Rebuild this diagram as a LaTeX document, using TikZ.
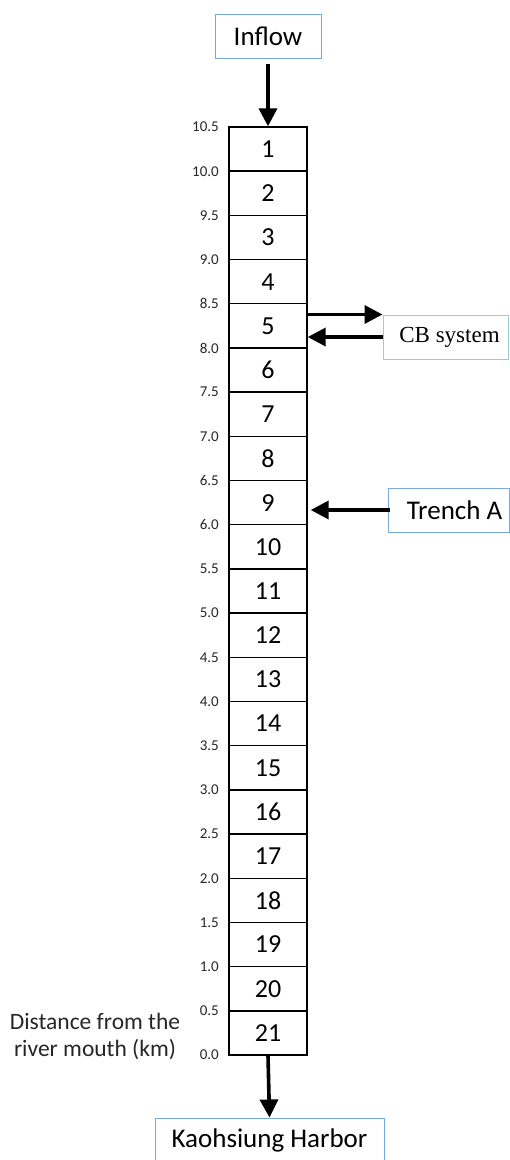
\documentclass[tikz,border=0pt]{standalone}
\usepackage{fontspec}
\setmainfont{Carlito}
\newfontfamily\serifrm{Liberation Serif}
\usetikzlibrary{arrows.meta}
\definecolor{boxblue}{RGB}{120,168,220}
\definecolor{boxcyan}{RGB}{150,205,218}
\begin{document}
\begin{tikzpicture}[x=1pt,y=-1pt,
  cellbox/.style={draw=black,line width=1.4pt,minimum width=78pt,minimum height=44.19pt,inner sep=0pt,font=\fontsize{26}{26}\selectfont},
  tick/.style={anchor=east,inner sep=0pt,font=\fontsize{15}{15}\selectfont,text=black!85},
  lbox/.style={draw=boxblue,line width=1pt,inner sep=0pt,font=\fontsize{27}{27}\selectfont},
  arr/.style={line width=3.6pt,-{Triangle[width=18pt,length=18pt]}},
]
\useasboundingbox (0,0) rectangle (510,1160);
% column cells
\foreach \i in {1,...,21}{
  \pgfmathsetmacro{\yc}{127+(\i-0.5)*44.19}
  \node[cellbox] (c\i) at (268,\yc) {\i};
}
% tick labels
\foreach \lab [count=\k from 0] in {10.5,10.0,9.5,9.0,8.5,8.0,7.5,7.0,6.5,6.0,5.5,5.0,4.5,4.0,3.5,3.0,2.5,2.0,1.5,1.0,0.5,0.0}{
  \pgfmathsetmacro{\yk}{127+\k*44.19}
  \node[tick] (t\k) at (219,\yk) {\lab};
}
% boxes
\node[lbox,minimum width=106pt,minimum height=44pt] (inflow) at (268,36) {Inflow};
\node[lbox,draw=boxcyan,minimum width=125pt,minimum height=44pt,font=\serifrm\fontsize{23}{23}\selectfont] (cb) at (445.5,337) {\hspace*{8pt}CB system};
\node[lbox,minimum width=121pt,minimum height=44pt] (trench) at (448.5,510) {\hspace*{12pt}Trench A};
\node[lbox,minimum width=229pt,minimum height=44pt] (harbor) at (269.5,1140) {Kaohsiung Harbor};
% distance label
\node[align=center,inner sep=0pt,font=\fontsize{23.5}{27}\selectfont,text=black!85] (dist) at (95,1036) {Distance from the\\river mouth (km)};
% arrows
\draw[arr] (inflow.south) ++(0,5) -- (c1.north);
\draw[arr] (c5.east |- cb.north west) -- (cb.north west);
\draw[arr] (cb.west) -- (c5.east |- cb.west);
\draw[arr] ([xshift=2pt]trench.west) -- ([xshift=3pt]c9.east |- trench.west);
\draw[arr] (c21.south) -- (harbor.north);
\end{tikzpicture}
\end{document}
